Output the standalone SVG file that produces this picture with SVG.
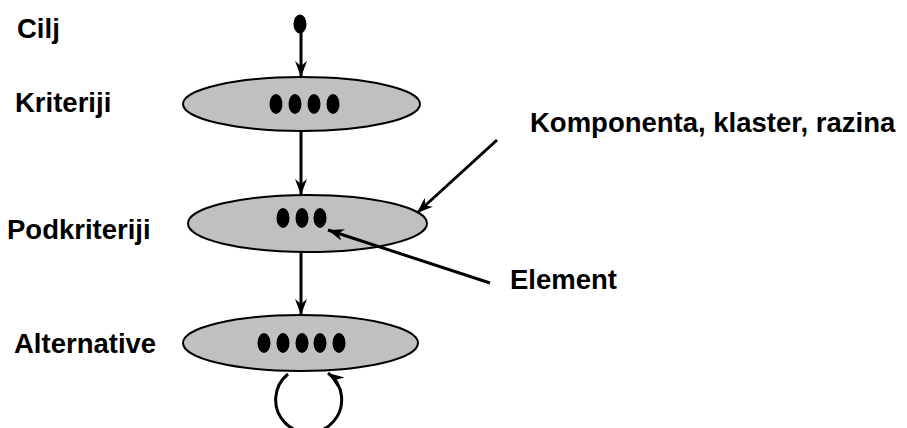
<svg xmlns="http://www.w3.org/2000/svg" width="907" height="428" viewBox="0 0 907 428">
<style>
.lbl{font-family:"Liberation Sans",Arial,sans-serif;font-weight:bold;font-size:27.5px;fill:#000}
.cl{fill:#c0c0c0;stroke:#000;stroke-width:2}
.dot{fill:#000}
.ln{fill:none;stroke:#000;stroke-width:3}
</style>
<defs>
<marker id="ah" markerUnits="userSpaceOnUse" markerWidth="18" markerHeight="14" refX="16" refY="6" orient="auto">
<path d="M0,0 L16,6 L0,12 L5,6 z" fill="#000"/>
</marker>
</defs>
<rect width="907" height="428" fill="#fff"/>
<g id="labels">
<text class="lbl" x="17" y="38">Cilj</text>
<text class="lbl" x="15" y="112">Kriteriji</text>
<text class="lbl" x="7" y="239">Podkriteriji</text>
<text class="lbl" x="14" y="353">Alternative</text>
</g>
<g id="goal"><ellipse class="dot" cx="300" cy="24" rx="6.5" ry="9.5"/></g>
<g id="kriteriji">
<ellipse class="cl" cx="301.5" cy="104" rx="118.5" ry="27"/>
<ellipse class="dot" cx="276" cy="104" rx="6.5" ry="10"/>
<ellipse class="dot" cx="295" cy="104" rx="6.5" ry="10"/>
<ellipse class="dot" cx="314" cy="104" rx="6.5" ry="10"/>
<ellipse class="dot" cx="333" cy="104" rx="6.5" ry="10"/>
</g>
<g id="podkriteriji">
<ellipse class="cl" cx="307.5" cy="223.5" rx="119.5" ry="28.5"/>
<ellipse class="dot" cx="283" cy="218" rx="6.5" ry="10"/>
<ellipse class="dot" cx="302" cy="218" rx="6.5" ry="10"/>
<ellipse class="dot" cx="320" cy="218" rx="6.5" ry="10"/>
</g>
<g id="alternative">
<ellipse class="cl" cx="300.5" cy="343" rx="117.5" ry="28"/>
<ellipse class="dot" cx="264" cy="343" rx="6.5" ry="10"/>
<ellipse class="dot" cx="283" cy="343" rx="6.5" ry="10"/>
<ellipse class="dot" cx="302" cy="343" rx="6.5" ry="10"/>
<ellipse class="dot" cx="320" cy="343" rx="6.5" ry="10"/>
<ellipse class="dot" cx="339" cy="343" rx="6.5" ry="10"/>
</g>
<g id="komponenta"><text class="lbl" x="530" y="132">Komponenta, klaster, razina</text></g>
<g id="element"><text class="lbl" x="510" y="289">Element</text></g>
<g id="connectors">
<line class="ln" x1="301" y1="30" x2="301" y2="77" marker-end="url(#ah)"/>
<line class="ln" x1="301" y1="131" x2="301" y2="195" marker-end="url(#ah)"/>
<line class="ln" x1="301" y1="252" x2="301" y2="315" marker-end="url(#ah)"/>
<line class="ln" x1="497" y1="140" x2="417" y2="213" marker-end="url(#ah)"/>
<line class="ln" x1="490" y1="283" x2="328" y2="230" marker-end="url(#ah)"/>
<path class="ln" d="M288,374 A33,33 0 1 0 328,373" marker-end="url(#ah)"/>
</g>
</svg>
